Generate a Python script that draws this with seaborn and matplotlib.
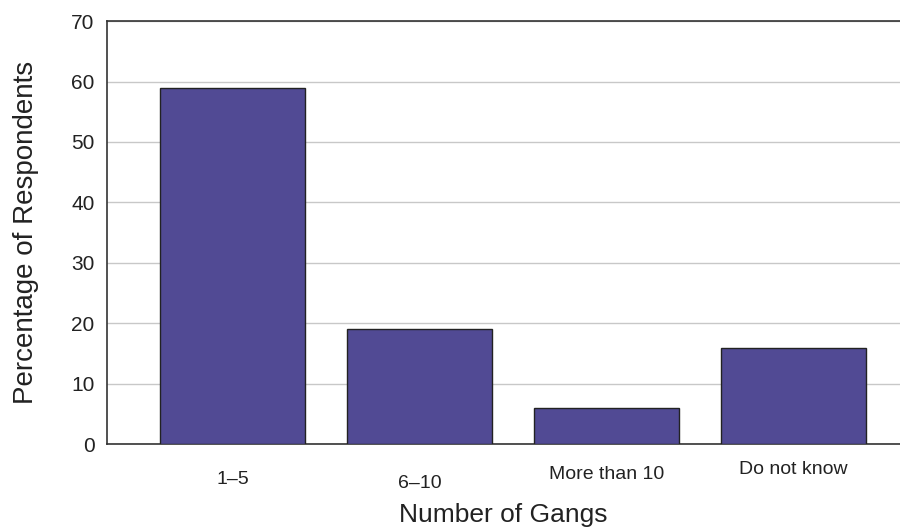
import matplotlib
matplotlib.use("Agg")
import matplotlib.pyplot as plt
import matplotlib.transforms as mtransforms
import pandas as pd
import seaborn as sns

# ── Data ───────────────────────────────────────────────────────────────────
categories = ["1\u20135", "6\u201310", "More than 10", "Do not know"]
percentages = [59, 19, 6, 16]
y_ticks = [0, 10, 20, 30, 40, 50, 60, 70]

BAR_COLOR = "#514a94"

sns.set_theme(style="white")
plt.rcParams["font.family"] = ["Liberation Sans", "DejaVu Sans"]

df = pd.DataFrame({"category": categories, "pct": percentages})

fig = plt.figure(figsize=(9, 5.27), dpi=100)
ax = fig.add_axes([0.119, 0.157, 0.881, 0.803])

sns.barplot(data=df, x="category", y="pct", color=BAR_COLOR, saturation=1,
            width=0.775, edgecolor="#222222", linewidth=1.0, ax=ax, zorder=3)

ax.set_xlim(-0.67, 3.57)
ax.set_ylim(0, 70)
ax.set_yticks(y_ticks)
ax.yaxis.grid(True, color="#c8c8c8", linewidth=1.0, zorder=0)
ax.set_axisbelow(True)

ax.spines["right"].set_visible(False)
for side in ["left", "top", "bottom"]:
    ax.spines[side].set_color("#333333")
    ax.spines[side].set_linewidth(1.2)

ax.tick_params(axis="both", length=0, colors="#222222")
ax.tick_params(axis="y", labelsize=15, pad=9)
ax.tick_params(axis="x", labelsize=14, pad=19)

# slight stagger of the category labels, as in the original (pixels, up = +)
offsets = [0, -4, 5, 10]
for lab, dy in zip(ax.get_xticklabels(), offsets):
    lab.set_transform(lab.get_transform() +
                      mtransforms.ScaledTranslation(0, dy / 100, fig.dpi_scale_trans))

ax.set_xlabel("Number of Gangs", fontsize=19, color="#222222", labelpad=8)
ax.set_ylabel("Percentage of Respondents", fontsize=20, color="#222222", labelpad=23)

fig.savefig("out.png", dpi=100)
